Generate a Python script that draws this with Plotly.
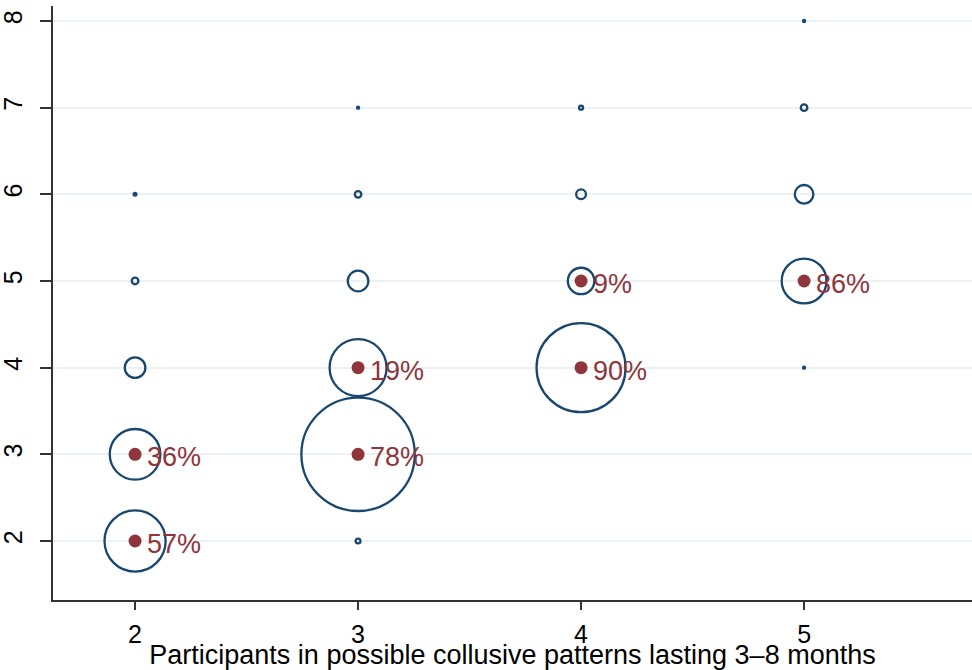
import math
import plotly.graph_objects as go

# Frequency of each (participants in 3–8 month patterns, total participants) combination
freq_x = [2, 2, 2, 2, 2, 3, 3, 3, 3, 3, 3, 4, 4, 4, 4, 5, 5, 5, 5, 5]
freq_y = [2, 3, 4, 5, 6, 2, 3, 4, 5, 6, 7, 4, 5, 6, 7, 4, 5, 6, 7, 8]
freq_n = [300, 205, 33, 3, 0.4, 1.5, 1040, 260, 33, 3, 0.2, 640, 55, 7, 1, 0.2, 160, 27, 3, 0.2]

# Share of collusive patterns for the main combinations
pct_x = [2, 2, 3, 3, 4, 4, 5]
pct_y = [2, 3, 3, 4, 4, 5, 5]
pct_v = [57, 36, 78, 19, 90, 9, 86]

x_ticks = [2, 3, 4, 5]
y_ticks = [2, 3, 4, 5, 6, 7, 8]

NAVY = "#1a476f"
MAROON = "#90353b"
FONT = "Arial, Liberation Sans, sans-serif"

# Hollow circle diameter grows with the square root of the frequency
sizes = [0.5 + 3.5 * math.sqrt(n) for n in freq_n]

fig = go.Figure()
fig.add_trace(go.Scatter(
    x=freq_x, y=freq_y, mode="markers",
    marker=dict(size=sizes, sizemode="diameter", color="rgba(0,0,0,0)",
                opacity=1, line=dict(color=NAVY, width=2.3)),
    hoverinfo="skip", showlegend=False,
))
fig.add_trace(go.Scatter(
    x=pct_x, y=pct_y, mode="markers",
    marker=dict(size=13, color=MAROON, opacity=1),
    hoverinfo="skip", showlegend=False,
))

# Percentage labels to the right of each filled dot
for x, y, v in zip(pct_x, pct_y, pct_v):
    fig.add_annotation(
        x=x, y=y, text=f"{v}%", showarrow=False,
        xanchor="left", yanchor="middle", xshift=10, yshift=-3,
        font=dict(family=FONT, size=27, color=MAROON),
    )

fig.update_layout(
    width=972, height=670,
    margin=dict(l=53, r=0, t=6, b=70),
    plot_bgcolor="white", paper_bgcolor="white",
    font=dict(family=FONT, color="black"),
)
fig.update_xaxes(
    range=[1.632, 5.753], tickvals=x_ticks, ticktext=[str(v) for v in x_ticks],
    showgrid=False, zeroline=False,
    showline=True, linecolor="#333333", linewidth=1.5,
    ticks="outside", ticklen=8, tickwidth=1.5, tickcolor="#333333",
    tickfont=dict(family=FONT, size=25), ticklabelstandoff=3,
    title=dict(text="Participants in possible collusive patterns lasting 3–8 months",
               font=dict(family=FONT, size=27), standoff=0),
)
fig.update_yaxes(
    range=[1.319, 8.173], tickvals=y_ticks, ticktext=[str(v) for v in y_ticks],
    showgrid=True, gridcolor="#eaf2f3", gridwidth=2, zeroline=False,
    showline=True, linecolor="#333333", linewidth=1.5,
    ticks="outside", ticklen=11, tickwidth=1.5, tickcolor="#333333",
    tickfont=dict(family=FONT, size=25), tickangle=-90, ticklabelstandoff=8,
)

fig.write_html("out.html")
